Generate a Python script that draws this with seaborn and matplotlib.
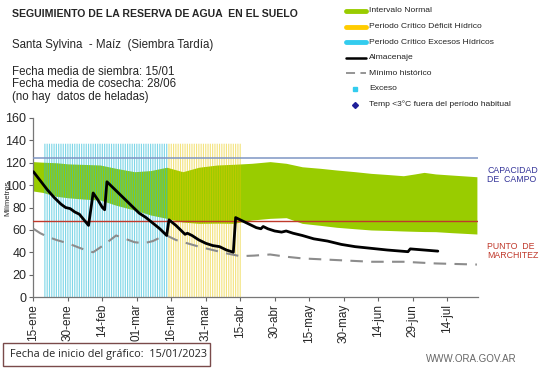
import matplotlib
matplotlib.use("Agg")
import matplotlib.pyplot as plt
from matplotlib.lines import Line2D
from matplotlib.patches import Rectangle
import numpy as np
import pandas as pd
import seaborn as sns

# ------------------------------------------------------------------ #
# Data (days since 15-ene)
# ------------------------------------------------------------------ #
tick_days = [0, 15, 30, 45, 60, 75, 90, 105, 120, 135, 150, 165, 180]
tick_labels = ["15-ene", "30-ene", "14-feb", "01-mar", "16-mar", "31-mar", "15-abr",
               "30-abr", "15-may", "30-may", "14-jun", "29-jun", "14-jul"]

band_days = [0, 4, 10, 15, 22, 29, 36, 44, 51, 58, 65, 72, 80, 87, 95, 103, 110,
             117, 125, 132, 140, 147, 154, 161, 166, 170, 175, 182, 193]
band_upper = [121, 120.5, 120, 119, 118.5, 118, 115, 112, 113, 116, 112, 116, 118,
              118.6, 119.5, 121, 119.5, 116.4, 115, 113.5, 112, 110.5, 109.5, 108.4,
              110, 111.4, 110, 109, 107.5]
band_lower = [94.7, 93.5, 90, 88.7, 87.5, 86.7, 82, 77.7, 73.3, 70.3, 67, 65.8, 66,
              65.8, 68.8, 70.3, 70.9, 65.8, 64, 62.3, 61, 59.9, 59.5, 59, 58.7, 58.5,
              58.4, 57.5, 56.3]

alm_days = [0, 3, 6, 9, 12, 14, 16, 18, 20, 22, 24, 26, 28, 30, 31, 32, 35, 38, 41,
            44, 46, 49, 52, 55, 58, 59, 62, 65, 66, 67, 69, 72, 75, 78, 81, 84, 87,
            88, 91, 94, 97, 99, 100, 102, 105, 108, 110, 113, 117, 122, 128, 134,
            140, 147, 154, 160, 163, 164, 170, 176]
almacenaje = [112, 104, 96, 89, 83, 80, 79, 76, 74, 69, 64, 93, 87, 80, 78, 103, 97,
              91, 85, 79, 75, 71, 66, 61, 55, 69, 64, 58, 56, 57, 55, 51, 48, 46, 45,
              42, 40, 71, 68, 65, 62, 61, 63, 61, 59, 58, 59, 57, 55, 52, 50, 47, 45,
              43.5, 42, 41, 40.5, 43, 42, 41]

min_days = [0, 3, 6, 10, 15, 20, 24, 26, 31, 36, 40, 44, 48, 52, 56, 58, 62, 67, 72,
            78, 84, 90, 96, 103, 110, 117, 132, 147, 161, 175, 193]
minimo = [61, 57, 54, 51, 48, 44, 41, 40, 47, 55, 52, 49, 48, 50, 54, 55, 51, 48, 45,
          42, 39, 36.5, 37, 38, 36, 34.5, 33, 31.5, 31.5, 30, 29]

capacidad_campo = 124.5
punto_marchitez = 68
exceso_period = (5, 58)
deficit_period = (59, 90)
period_height = 137
x_end = 193.3

# ------------------------------------------------------------------ #
sns.set_theme(style="ticks")
plt.rcParams["font.family"] = ["Liberation Sans", "DejaVu Sans"]

fig = plt.figure(figsize=(5.41, 3.68), dpi=100)
W, H = 541, 368
ax = fig.add_axes([33.4 / W, 1 - 297 / H, (477.6 - 33.4) / W, (297 - 118) / H])

# normal interval band
ax.fill_between(band_days, band_lower, band_upper, color="#99cc00", lw=0, zorder=1)

# critical periods as daily stripes
exc = np.arange(exceso_period[0], exceso_period[1] + 1)
def_ = np.arange(deficit_period[0], deficit_period[1] + 1)
for bars in (
    ax.bar(exc, period_height, width=0.5, color="#2bbcd8", alpha=0.6, lw=0, zorder=2),
    ax.bar(def_, period_height, width=0.5, color="#e8c800", alpha=0.5, lw=0, zorder=2),
):
    for b in bars:
        b.set_snap(False)

ax.axhline(capacidad_campo, color="#7f96c4", lw=1.1, zorder=3)
ax.axhline(punto_marchitez, color="#c0392b", lw=1.0, zorder=3)

df_min = pd.DataFrame({"dia": min_days, "mm": minimo})
df_alm = pd.DataFrame({"dia": alm_days, "mm": almacenaje})
sns.lineplot(data=df_min, x="dia", y="mm", ax=ax, color="#8c8c8c", lw=1.5,
             dashes=False, linestyle=(0, (6, 4)), zorder=4)
sns.lineplot(data=df_alm, x="dia", y="mm", ax=ax, color="black", lw=2, zorder=5)

ax.set_xlim(0, x_end)
ax.set_ylim(0, 160)
ax.set_yticks(range(0, 161, 20))
ax.set_xticks(tick_days)
ax.set_xticklabels(tick_labels, rotation=90, fontsize=8.5)
ax.tick_params(axis="y", labelsize=9, length=3, width=0.8, color="#666", pad=2)
ax.tick_params(axis="x", length=3, width=0.8, color="#666", pad=2)
ax.set_xlabel("")
ax.set_ylabel("Milímetros", fontsize=5.5)
ax.yaxis.set_label_coords(-0.05, 0.55)
sns.despine(ax=ax)
for s in ("left", "bottom"):
    ax.spines[s].set_color("#777")
    ax.spines[s].set_linewidth(0.9)

# right side labels
fig.text(487 / W, 1 - 166 / H, "CAPACIDAD\nDE  CAMPO", fontsize=6.3, color="#333399",
         va="top", linespacing=1.0)
fig.text(487 / W, 1 - 242 / H, "PUNTO  DE\nMARCHITEZ", fontsize=6.3, color="#c0392b",
         va="top", linespacing=1.0)

# header texts
fig.text(12 / W, 1 - 14 / H, "SEGUIMIENTO DE LA RESERVA DE AGUA  EN EL SUELO",
         fontsize=7.6, fontweight="bold", va="center")
fig.text(12 / W, 1 - 45 / H, "Santa Sylvina  - Maíz  (Siembra Tardía)", fontsize=8.3,
         va="center")
fig.text(12 / W, 1 - 66 / H,
         "Fecha media de siembra: 15/01\nFecha media de cosecha: 28/06\n(no hay  datos de heladas)",
         fontsize=8.3, va="top", linespacing=1.05)

# legend drawn by hand
legend_rows = [
    ("Intervalo Normal", "band", "#99cc00"),
    ("Periodo Crítico Déficit Hídrico", "band", "#ffcc00"),
    ("Periodo Crítico Excesos Hídricos", "band", "#33ccee"),
    ("Almacenaje", "line", "black"),
    ("Mínimo histórico", "dash", "#8c8c8c"),
    ("Exceso", "square", "#33ccee"),
    ("Temp <3°C fuera del período habitual", "diamond", "#1f1f99"),
]
for i, (label, kind, col) in enumerate(legend_rows):
    yy = 1 - (11 + i * 15.6) / H
    x0, x1 = 346 / W, 366 / W
    if kind == "band":
        fig.add_artist(Line2D([x0, x1], [yy, yy], lw=3.5, color=col))
    elif kind == "line":
        fig.add_artist(Line2D([x0, x1], [yy, yy], lw=1.8, color=col))
    elif kind == "dash":
        fig.add_artist(Line2D([x0, x1], [yy, yy], lw=1.3, color=col,
                              linestyle=(0, (5, 3))))
    elif kind == "square":
        fig.add_artist(Line2D([355 / W], [yy], marker="s", ms=2.2, color=col, lw=0))
    else:
        fig.add_artist(Line2D([355 / W], [yy], marker="D", ms=3, color=col, lw=0))
    fig.text(369 / W, yy, label, fontsize=6.1, va="center", color="#222")

# footer
fig.add_artist(Rectangle((3 / W, 2 / H), 207 / W, 23 / H, transform=fig.transFigure,
                         fill=False, edgecolor="#7a4a4a", lw=1))
fig.text(10 / W, 13.5 / H, "Fecha de inicio del gráfico:  15/01/2023", fontsize=7.8,
         va="center", family=["Open Sans", "DejaVu Sans"])
fig.text(517 / W, 9 / H, "WWW.ORA.GOV.AR", fontsize=7, ha="right", va="center",
         color="#666")

fig.savefig("out.png", dpi=100)
